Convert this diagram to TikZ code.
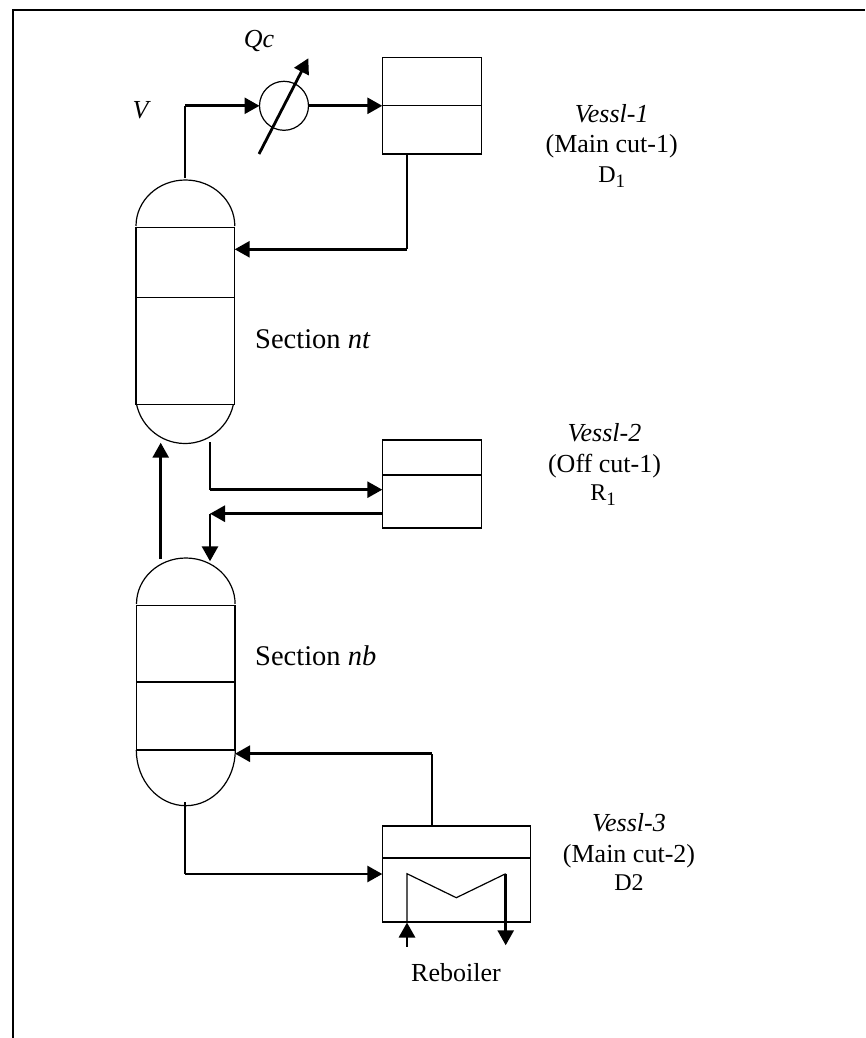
\documentclass[tikz,border=0pt]{standalone}
\usepackage{fontspec}
\setmainfont{Liberation Serif}
\usetikzlibrary{calc, arrows.meta}

\tikzset{
  thinpipe/.style={line width=1.2pt},
  thickpipe/.style={line width=2.8pt,->},
  vessl/.style={draw,line width=1.2pt,rectangle,inner sep=0pt,outer sep=0pt},
  lbl/.style={anchor=base,inner sep=0pt,font=\fontsize{26}{30}\selectfont},
  seclbl/.style={anchor=base west,inner sep=0pt,font=\fontsize{28.5}{32}\selectfont},
  cutlbl/.style={anchor=base,inner sep=0pt,font=\fontsize{24}{28}\selectfont}
}

\begin{document}
\begin{tikzpicture}[x=1pt,y=-1pt,>={Triangle[length=15pt,width=16pt]}]
\useasboundingbox (0,0) rectangle (865,1038);

% page frame
\draw[line width=1.8pt] (13.3,1038) -- (13.3,10) -- (865,10);

% upper column
\coordinate (T1) at (136,227.7);
\coordinate (T3) at (234.7,404.3);
\draw[thinpipe] (T1) rectangle (T3);
\draw[thinpipe] (136,297.7) -- (234.7,297.7);
\draw[thinpipe] (136,226) arc[start angle=180,end angle=360,x radius=49.4,y radius=46];
\draw[thinpipe] (233.4,404.3) arc[start angle=12,end angle=168,radius=49.5];

% lower column
\coordinate (B1) at (136.5,605.7);
\coordinate (B3) at (235,750);
\draw[thinpipe] (B1) rectangle (B3);
\draw[thinpipe] (136.5,682) -- (235,682);
\draw[thinpipe] (136.5,604) arc[start angle=180,end angle=360,x radius=49.3,y radius=46];
\draw[thinpipe] (136.3,750) arc[start angle=180,end angle=0,x radius=49.5,y radius=55.7];

% vessels
\node[vessl,minimum width=99pt,minimum height=96.4pt] (vessl1) at (431.8,105.8) {};
\draw[thinpipe] (vessl1.west) -- (vessl1.east);
\node[vessl,minimum width=99pt,minimum height=88pt] (vessl2) at (431.8,484) {};
\draw[thinpipe] (382.3,475) -- (481.3,475);
\node[vessl,minimum width=148pt,minimum height=96pt] (vessl3) at (456.3,874) {};
\draw[thinpipe] (382.3,858) -- (530.3,858);

% condenser
\node[draw,circle,line width=1.2pt,minimum size=49pt,inner sep=0pt,outer sep=0pt] (cond) at (284,105.8) {};
\draw[thickpipe] (259,154) -- (308.3,58.3);

% vapour line and reflux
\coordinate (vtop) at (185,178);
\coordinate (vbend) at (185,105.8);
\draw[thinpipe] (vtop) -- (vbend);
\draw[thickpipe] (vbend) -- (cond.west);
\draw[thickpipe] (cond.east) -- (vessl1.west);
\coordinate (refluxout) at (407,154);
\coordinate (refluxbend) at (407,249.3);
\draw[thinpipe] (refluxout) -- (refluxbend);
\draw[thickpipe] (refluxbend) -- (234.7,249.3);

% between the columns
\draw[thickpipe] (160.7,559) -- (160.7,442.7);
\coordinate (drawoff) at (210,442);
\coordinate (drawbend) at (210,489.7);
\draw[thinpipe] (drawoff) -- (drawbend);
\draw[thickpipe] (drawbend) -- (382.3,489.7);
\coordinate (backout) at (383,513.7);
\coordinate (backbend) at (210,513.7);
\draw[thickpipe] (backout) -- (backbend);
\draw[thickpipe] (backbend) -- (210,561.3);

% bottoms and boil-up
\coordinate (botout) at (185,802);
\coordinate (botbend) at (185,874);
\draw[thinpipe] (botout) -- (botbend);
\draw[thickpipe] (botbend) -- (382.3,874);
\coordinate (boilout) at (432,826);
\coordinate (boilbend) at (432,753.7);
\draw[thinpipe] (boilout) -- (boilbend);
\draw[thickpipe] (boilbend) -- (235,753.7);

% reboiler coil
\coordinate (C1) at (407,873.7);
\coordinate (C2) at (456.3,897.7);
\coordinate (C3) at (505.7,873.7);
\draw[thinpipe] (407,922) -- (C1) -- (C2) -- (C3);
\draw[thickpipe] (407,946.7) -- (407,922.5);
\draw[thickpipe] (C3) -- (505.7,945.3);

% labels
\node[lbl] (qc) at (259,47.5) {\textit{Qc}};
\node[lbl] (vlabel) at (141.7,118) {\textit{V}};
\node[seclbl] (secnt) at (255,348) {Section \textit{nt}};
\node[seclbl] (secnb) at (255,665) {Section \textit{nb}};

\node[lbl] (v1a) at (611.7,123) {\textit{Vessl-1}};
\node[lbl] (v1b) at (611.7,153) {(Main cut-1)};
\node[cutlbl] (v1c) at (611.7,182.7) {D\raisebox{-4.5pt}{\fontsize{19}{20}\selectfont 1}};

\node[lbl] (v2a) at (604.5,441.7) {\textit{Vessl-2}};
\node[lbl] (v2b) at (604.5,472) {(Off cut-1)};
\node[cutlbl] (v2c) at (603,500.7) {R\raisebox{-4.5pt}{\fontsize{19}{20}\selectfont 1}};

\node[lbl] (v3a) at (629,831.7) {\textit{Vessl-3}};
\node[lbl] (v3b) at (629,862.3) {(Main cut-2)};
\node[cutlbl] (v3c) at (629,890.7) {D2};

\node[lbl] (reb) at (456,981.7) {Reboiler};
\end{tikzpicture}
\end{document}
